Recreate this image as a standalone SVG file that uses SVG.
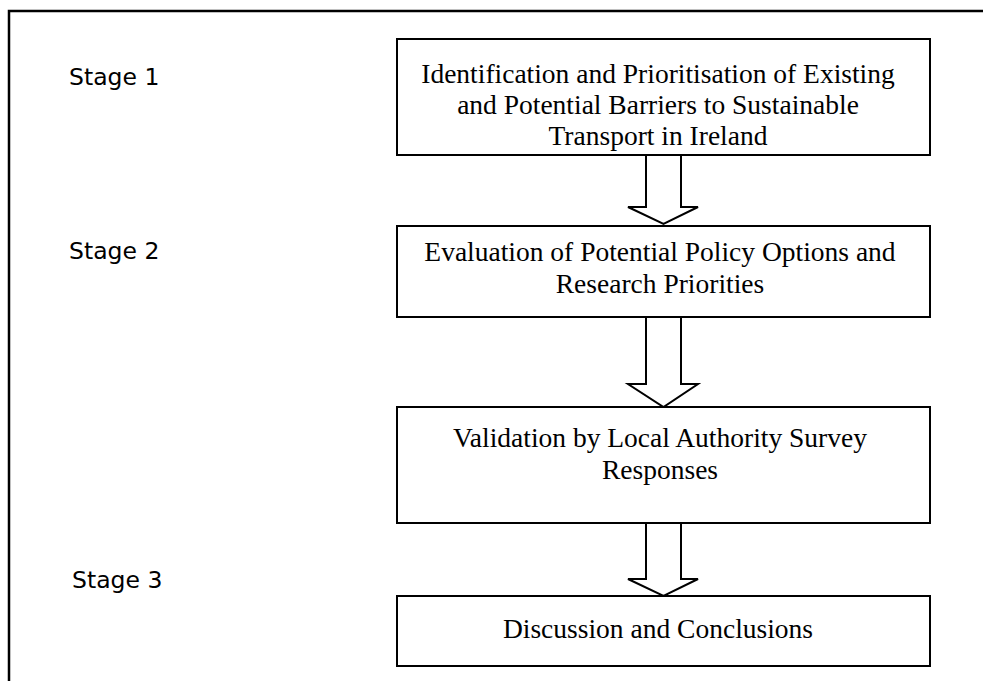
<svg xmlns="http://www.w3.org/2000/svg" width="983" height="681" viewBox="0 0 983 681">
<style>
.box{fill:#fff;stroke:#000;stroke-width:2}
.arr{fill:#fff;stroke:#000;stroke-width:2;stroke-linejoin:miter}
.t{font-family:"Liberation Serif","Times New Roman",serif;font-size:27.5px;fill:#000;text-anchor:middle}
.s{font-family:"DejaVu Sans",Verdana,sans-serif;font-size:23.5px;fill:#000}
</style>
<rect x="0" y="0" width="983" height="681" fill="#fff"/>
<path d="M9 681 V11 H983" fill="none" stroke="#000" stroke-width="2.5"/>
<g id="labels">
<text class="s" x="69" y="85">Stage 1</text>
<text class="s" x="69" y="259">Stage 2</text>
<text class="s" x="72" y="588">Stage 3</text>
</g>
<g id="connectors">
<path class="arr" d="M646 155 V207 H628 L663.5 224 L698 207 H681 V155"/>
<path class="arr" d="M646 317 V384 H628 L663.5 407 L698 384 H681 V317"/>
<path class="arr" d="M646 523 V579 H628 L663.5 596 L698 579 H681 V523"/>
</g>
<g id="node1">
<rect class="box" x="397" y="39" width="533" height="116"/>
<text class="t" x="658" y="83">Identification and Prioritisation of Existing</text>
<text class="t" x="658" y="114">and Potential Barriers to Sustainable</text>
<text class="t" x="658" y="145">Transport in Ireland</text>
</g>
<g id="node2">
<rect class="box" x="397" y="226" width="533" height="91"/>
<text class="t" x="660" y="261">Evaluation of Potential Policy Options and</text>
<text class="t" x="660" y="293">Research Priorities</text>
</g>
<g id="node3">
<rect class="box" x="397" y="407" width="533" height="116"/>
<text class="t" x="660" y="447">Validation by Local Authority Survey</text>
<text class="t" x="660" y="479">Responses</text>
</g>
<g id="node4">
<rect class="box" x="397" y="596" width="533" height="70"/>
<text class="t" x="658" y="638">Discussion and Conclusions</text>
</g>
</svg>
